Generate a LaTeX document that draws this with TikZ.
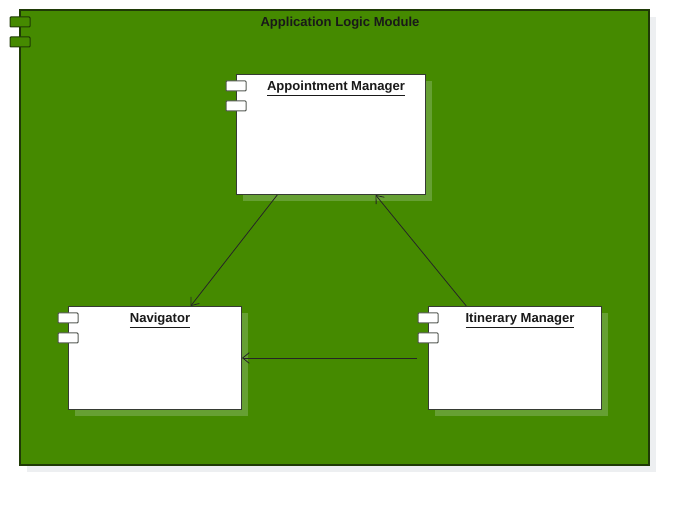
\documentclass[tikz,border=0pt]{standalone}
\usepackage{fontspec}
\setmainfont{Liberation Sans}
\usepackage{tikz}
\usetikzlibrary{
  positioning,
  calc,
  arrows.meta
}
\definecolor{modGreen}{HTML}{458A00}
\definecolor{modEdge}{HTML}{1F3A06}
\definecolor{shadowGreen}{HTML}{66A033}
\definecolor{boxEdge}{HTML}{363B33}
\definecolor{outerShadow}{HTML}{EDEFF1}
\tikzstyle{dep}=[-{Straight Barb[length=5pt,width=8pt]}, line width=0.6pt, black!85]
\tikzstyle{comp}=[draw=boxEdge, line width=0.75pt, fill=white, anchor=north west, inner sep=0pt]
\tikzstyle{tab}=[draw=boxEdge!85, line width=0.75pt, fill=white, rounded corners=0.6pt]
\tikzstyle{modtab}=[draw=modEdge, line width=0.75pt, fill=modGreen, rounded corners=0.6pt]
\tikzstyle{title}=[font=\bfseries\fontsize{9.8}{12}\selectfont, text=black!90, inner sep=0pt, anchor=base]

\begin{document}
\begin{tikzpicture}[x=0.75pt,y=-0.75pt]
      \useasboundingbox (0,0) rectangle (689,505);

      % 外側のモジュール
      \fill[outerShadow] (27,17) rectangle (656,472);
      \draw[modEdge, line width=0.9pt, fill=modGreen] (20,10) rectangle (649,465);
      \draw[modtab] (10,17) rectangle (30,27);
      \draw[modtab] (10,37) rectangle (30,47);
      \node[title] (module) at (340,27) {Application Logic Module};

      % コンポーネントの位置
      \coordinate (A) at (236,74);
      \coordinate (N) at (68,306);
      \coordinate (I) at (428,306);

      % 影
      \fill[shadowGreen] ($(A)+(7,7)$) rectangle +(189,120);
      \fill[shadowGreen] ($(N)+(7,7)$) rectangle +(173,103);
      \fill[shadowGreen] ($(I)+(7,7)$) rectangle +(173,103);

      % コンポーネント
      \node[comp, minimum width=141.75pt, minimum height=90pt] (appt) at (A) {};
      \node[comp, minimum width=129.75pt, minimum height=77.25pt] (nav) at (N) {};
      \node[comp, minimum width=129.75pt, minimum height=77.25pt] (itin) at (I) {};

      % 小さいタブ
      \foreach \c in {appt,nav,itin}{
        \draw[tab] ($(\c.north west)+(-10,7)$) rectangle +(20,10);
        \draw[tab] ($(\c.north west)+(-10,27)$) rectangle +(20,10);
      }

      % 名前
      \node[title] (apptlabel) at ($(appt.north)+(5,17)$) {\underline{Appointment Manager}};
      \node[title] (navlabel) at ($(nav.north)+(5,17)$) {\underline{Navigator}};
      \node[title] (itinlabel) at ($(itin.north)+(5,17)$) {\underline{Itinerary Manager}};

      % 依存関係の矢印
      \draw[dep] ($(appt.south west)!0.217!(appt.south east)$) -- ($(nav.north west)!0.705!(nav.north east)$);
      \draw[dep] ($(itin.north west)!0.22!(itin.north east)$) -- ($(appt.south west)!0.735!(appt.south east)$);
      \draw[dep] ($(itin.west)+(-11,0)$) -- (nav.east);
\end{tikzpicture}
\end{document}
